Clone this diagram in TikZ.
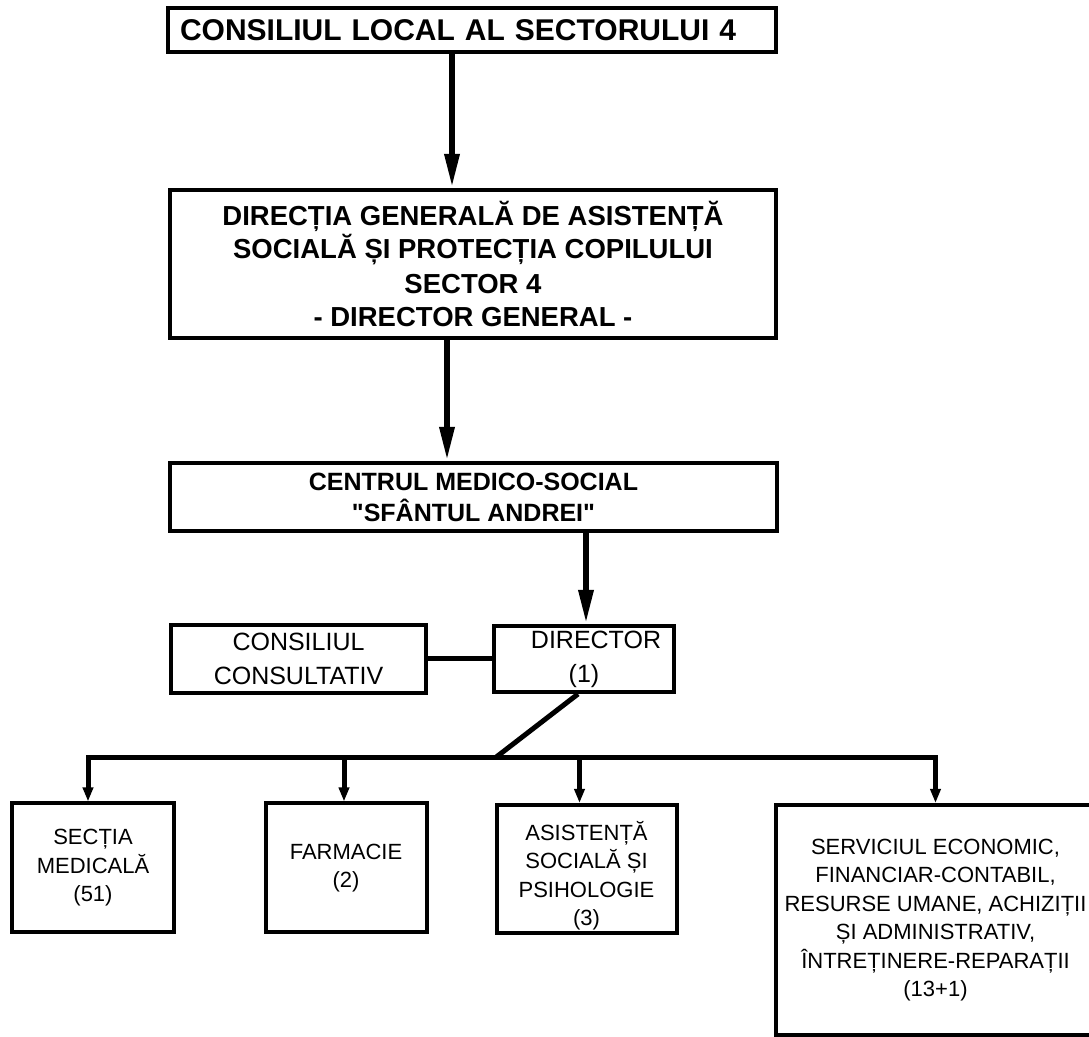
\documentclass[tikz,border=0pt]{standalone}
\usepackage{fontspec}
\setmainfont{Liberation Sans}[Ligatures=TeXOff]
\usetikzlibrary{arrows.meta}
\begin{document}
\begin{tikzpicture}[x=0.5pt,y=-0.5pt,
  box/.style={draw, line width=2pt, inner sep=0pt, align=center},
  topfont/.style={font=\bfseries\fontsize{15}{18}\selectfont},
  dirfont/.style={font=\bfseries\fontsize{13.75}{17}\selectfont},
  cenfont/.style={font=\bfseries\fontsize{12.5}{15.5}\selectfont},
  midfont/.style={font=\fontsize{12.5}{17}\selectfont},
  lowfont/.style={font=\fontsize{11}{14.25}\selectfont},
  conn/.style={line width=2.5pt},
  bigarrow/.style={line width=3pt, -{Triangle[length=17pt,width=7pt]}},
  smallarrow/.style={line width=2.5pt, -{Triangle[length=7pt,width=5pt]}},
  bothends/.style={line width=2.5pt, line join=miter, {Triangle[length=7pt,width=5pt]}-{Triangle[length=7pt,width=5pt]}}
]
\useasboundingbox (0,0) rectangle (1089,1037);
\fill[white] (0,0) rectangle (1089,1037);
\clip (0,0) rectangle (1089,1037);

% top boxes
\node[box, topfont, text width=292pt, inner xsep=6pt, minimum height=22pt, align=left] (b1) at (472,30) {CONSILIUL LOCAL AL SECTORULUI 4};
\node[box, dirfont, minimum width=303pt, minimum height=74pt] (b2) at (473,264) {DIRECȚIA GENERALĂ DE ASISTENȚĂ\\SOCIALĂ ȘI PROTECȚIA COPILULUI\\SECTOR 4\\- DIRECTOR GENERAL -};
\node[box, cenfont, minimum width=303.5pt, minimum height=34pt] (b3) at (473.5,497) {CENTRUL MEDICO-SOCIAL\\"SFÂNTUL ANDREI"};

% middle row
\node[box, midfont, minimum width=127.5pt, minimum height=34pt] (cc) at (298.5,659) {CONSILIUL\\CONSULTATIV};
\node[box, midfont, minimum width=90pt, minimum height=33pt] (dir) at (584,659) {\hspace*{12pt}DIRECTOR\\(1)};

% bottom row
\node[box, lowfont, minimum width=81pt, minimum height=64.5pt] (s1) at (93,868) {SECȚIA\\MEDICALĂ\\(51)};
\node[box, lowfont, minimum width=80.5pt, minimum height=64.5pt] (s2) at (346,868) {FARMACIE\\(2)};
\node[box, lowfont, minimum width=90pt, minimum height=64pt] (s3) at (586.5,869) {\rule{0pt}{0pt}\\[2pt]ASISTENȚĂ\\SOCIALĂ ȘI\\PSIHOLOGIE\\(3)};
\node[box, lowfont, minimum width=159.5pt, minimum height=115pt] (s4) at (935.5,920) {SERVICIUL ECONOMIC,\\FINANCIAR-CONTABIL,\\RESURSE UMANE, ACHIZIȚII\\ȘI ADMINISTRATIV,\\ÎNTREȚINERE-REPARAȚII\\(13+1)};

% connector anchor points
\coordinate (a1) at ([xshift=-10pt]b1.south);
\coordinate (a2) at ([xshift=-13pt]b2.south);
\coordinate (a3) at ([xshift=56.25pt]b3.south);
\coordinate (dd) at ([xshift=-3pt]dir.south);
\coordinate (j) at (495,758);
\coordinate (d1) at ([xshift=-2.5pt]s1.north);
\coordinate (d2) at ([xshift=-1pt]s2.north);
\coordinate (d3) at ([xshift=-3.5pt]s3.north);
\coordinate (d4) at (s4.north);

% connectors
\draw[bigarrow] (a1) -- (a1 |- b2.north);
\draw[bigarrow] (a2) -- (a2 |- b3.north);
\draw[bigarrow] (a3) -- (a3 |- dir.north);
\draw[conn] (cc.east) -- (cc.east -| dir.west);
\draw[conn] (dd) -- (j);
\draw[bothends] (d1) -- (d1 |- j) -- (d4 |- j) -- (d4);
\draw[smallarrow] (d2 |- j) -- (d2);
\draw[smallarrow] (d3 |- j) -- (d3);
\end{tikzpicture}
\end{document}
